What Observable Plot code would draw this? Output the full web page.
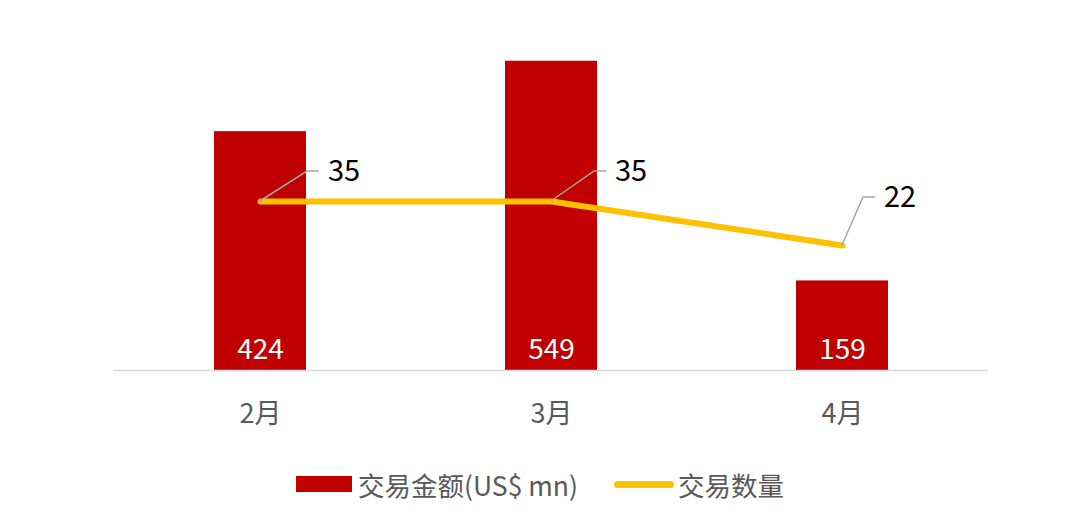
<!DOCTYPE html>
<html>
<head>
<meta charset="utf-8">
<script src="https://cdn.jsdelivr.net/npm/d3@7"></script>
<script src="https://cdn.jsdelivr.net/npm/@observablehq/plot@0.6"></script>
<style>
  html, body { margin: 0; padding: 0; background: #fff; }
  body { width: 1080px; height: 528px; overflow: hidden; font-family: "Noto Sans CJK SC", "Noto Sans", sans-serif; }
  #legend { display: flex; justify-content: center; align-items: center; height: 64px; color: #595959; font-size: 26.5px; }
  .item { display: flex; align-items: center; }
  .swatch { width: 56px; height: 16px; background: #C00000; margin-right: 6px; }
  .lineSw { width: 60px; height: 7px; border-radius: 4px; background: #FFC000; margin-right: 4px; }
</style>
</head>
<body>
<div id="chart"></div>
<div id="legend">
  <div class="item" style="margin-right:36px"><div class="swatch"></div><span>交易金额(US$ mn)</span></div>
  <div class="item"><div class="lineSw"></div><span>交易数量</span></div>
</div>
<script>
const months = ["2月", "3月", "4月"];
const amounts = [424, 549, 159];
const counts = [35, 35, 22];

// secondary axis (count) mapped onto the primary amount axis
const countToAmount = d3.scaleLinear().domain([-15, 85]).range([0, 600]);

const data = months.map((m, i) => ({month: m, amount: amounts[i], count: counts[i], countY: countToAmount(counts[i])}));

// leader-line offsets in pixels (label placement)
const leaderOffsets = [[47, -30], [43, -30], [21, -48]];

const font = '"Noto Sans CJK SC", "Noto Sans", sans-serif';

function leaders(index, scales) {
  const g = d3.create("svg:g");
  const bw = scales.x.bandwidth ? scales.x.bandwidth() : 0;
  data.forEach((d, i) => {
    const x0 = scales.x(d.month) + bw / 2;
    const y0 = scales.y(d.countY);
    const [dx, dy] = leaderOffsets[i];
    g.append("path")
      .attr("d", `M${x0},${y0}L${x0 + dx},${y0 + dy}h12`)
      .attr("fill", "none")
      .attr("stroke", "#A6A6A6")
      .attr("stroke-width", 1.5);
    g.append("text")
      .attr("x", x0 + dx + 21)
      .attr("y", y0 + dy)
      .attr("dy", "0.35em")
      .attr("text-anchor", "start")
      .attr("font-size", 29)
      .attr("font-family", font)
      .attr("fill", "#000")
      .text(d.count);
  });
  return g.node();
}

const chart = Plot.plot({
  width: 1080,
  height: 452,
  marginLeft: 113,
  marginRight: 92,
  marginTop: 32,
  marginBottom: 82,
  style: {fontFamily: font, background: "#fff"},
  x: {domain: months, paddingInner: 0.685, paddingOuter: 0.3425, label: null},
  y: {domain: [0, 600], axis: null},
  marks: [
    Plot.barY(data, {x: "month", y: "amount", fill: "#C00000"}),
    Plot.ruleY([0], {stroke: "#D9D9D9", strokeWidth: 1.5}),
    Plot.text(data, {x: "month", y: 0, text: d => String(d.amount), fill: "#fff", fontSize: 28, dy: -20}),
    Plot.line(data, {x: "month", y: "countY", stroke: "#FFC000", strokeWidth: 6, strokeLinecap: "round", strokeLinejoin: "round"}),
    leaders,
    Plot.axisX({tickSize: 0, tickPadding: 33, fontSize: 27, fill: "#595959", label: null})
  ]
});
document.getElementById("chart").appendChild(chart);
</script>
</body>
</html>
